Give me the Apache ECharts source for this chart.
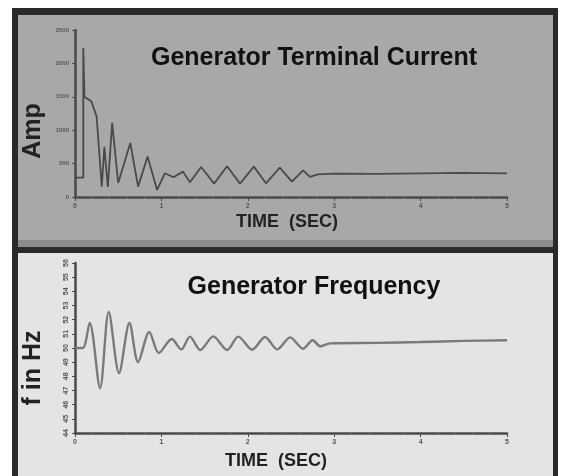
<!DOCTYPE html>
<html>
<head>
<meta charset="utf-8">
<script src="https://cdn.jsdelivr.net/npm/echarts@6/dist/echarts.min.js"></script>
<style>
  html, body { margin: 0; padding: 0; background: #fff; }
  #chart { width: 561px; height: 476px; }
</style>
</head>
<body>
<div id="chart"></div>
<script>
// time ticks (sec)
const timeTicks = [0, 1, 2, 3, 4, 5];

// generator terminal current, [sec, amp]
const currentData = [
  [0, 290], [0.096, 290], [0.096, 2230], [0.11, 1500], [0.19, 1430], [0.25, 1205],
  [0.31, 155], [0.34, 750], [0.38, 150], [0.43, 1110], [0.50, 210], [0.64, 810],
  [0.73, 155], [0.84, 605], [0.95, 105], [1.04, 355], [1.14, 295], [1.25, 380],
  [1.33, 220], [1.46, 450], [1.61, 200], [1.76, 460], [1.91, 200], [2.07, 455],
  [2.21, 205], [2.37, 440], [2.51, 230], [2.64, 400], [2.72, 300], [2.81, 340],
  [3.0, 350], [3.5, 345], [4.0, 355], [4.5, 360], [5.0, 355]
];

// generator frequency, [sec, Hz]
const freqData = [
  [0, 50.0], [0.09, 50.0], [0.17, 51.77], [0.29, 47.16], [0.39, 52.55], [0.51, 48.23],
  [0.63, 51.77], [0.73, 49.0], [0.86, 51.13], [0.97, 49.65], [1.12, 50.64], [1.23, 49.9],
  [1.33, 50.8], [1.45, 49.86], [1.60, 50.82], [1.76, 49.86], [1.89, 50.8], [2.05, 49.88],
  [2.20, 50.78], [2.34, 49.9], [2.49, 50.75], [2.64, 49.95], [2.75, 50.55], [2.84, 50.12],
  [2.95, 50.33], [3.5, 50.36], [4.0, 50.42], [4.5, 50.5], [5.0, 50.55]
];

const chart = echarts.init(document.getElementById('chart'));

const sans = "'Liberation Sans', Arial, sans-serif";
const axisColor = '#4a4a4a';

function timeAxis(gridIndex) {
  return {
    type: 'value', gridIndex: gridIndex,
    min: timeTicks[0], max: timeTicks[timeTicks.length - 1], interval: 1,
    axisLine: { lineStyle: { color: axisColor, width: 2.5 } },
    axisTick: { show: true, length: 4, lineStyle: { color: axisColor } },
    minorTick: { show: true, splitNumber: 5, length: 2, lineStyle: { color: '#777' } },
    axisLabel: { fontSize: 7, color: '#555', margin: 6, fontWeight: 'bold' },
    splitLine: { show: false }
  };
}

chart.setOption({
  animation: false,
  backgroundColor: '#ffffff',
  graphic: [
    // panels and frame
    { type: 'rect', z: -10, shape: { x: 12, y: 8, width: 546, height: 468 }, style: { fill: '#2a2a2a' } },
    { type: 'rect', z: -9, shape: { x: 18, y: 15, width: 535, height: 232 }, style: { fill: '#a8a8a8' } },
    { type: 'rect', z: -9, shape: { x: 18, y: 240, width: 535, height: 7 }, style: { fill: '#8c8c8c' } },
    { type: 'rect', z: -9, shape: { x: 18, y: 253, width: 535, height: 223 }, style: { fill: '#e4e4e4' } },
    // titles
    { type: 'text', z: 10, x: 314, y: 58, style: { text: 'Generator Terminal Current', font: 'bold 25px ' + sans, fill: '#111', align: 'center', verticalAlign: 'middle' } },
    { type: 'text', z: 10, x: 314, y: 287, style: { text: 'Generator Frequency', font: 'bold 25px ' + sans, fill: '#111', align: 'center', verticalAlign: 'middle' } },
    // axis names
    { type: 'text', z: 10, x: 33, y: 131, rotation: Math.PI / 2, style: { text: 'Amp', font: 'bold 25px ' + sans, fill: '#222', align: 'center', verticalAlign: 'middle' } },
    { type: 'text', z: 10, x: 33, y: 368, rotation: Math.PI / 2, style: { text: 'f in Hz', font: 'bold 25px ' + sans, fill: '#222', align: 'center', verticalAlign: 'middle' } },
    { type: 'text', z: 10, x: 287, y: 222, style: { text: 'TIME  (SEC)', font: 'bold 18px ' + sans, fill: '#222', align: 'center', verticalAlign: 'middle' } },
    { type: 'text', z: 10, x: 276, y: 461, style: { text: 'TIME  (SEC)', font: 'bold 18px ' + sans, fill: '#222', align: 'center', verticalAlign: 'middle' } }
  ],
  grid: [
    { left: 75, right: 54, top: 30, bottom: 279 },
    { left: 75, right: 54, top: 263, bottom: 43 }
  ],
  xAxis: [timeAxis(0), timeAxis(1)],
  yAxis: [
    {
      type: 'value', gridIndex: 0, min: 0, max: 2500, interval: 500,
      axisLine: { show: true, lineStyle: { color: axisColor, width: 2.5 } },
      axisTick: { show: true, length: 3, lineStyle: { color: axisColor } },
      axisLabel: { fontSize: 6, color: '#555', margin: 6, fontWeight: 'bold', formatter: (v) => String(v) },
      splitLine: { show: false }
    },
    {
      type: 'value', gridIndex: 1, min: 44, max: 56, interval: 1,
      axisLine: { show: true, lineStyle: { color: axisColor, width: 2.5 } },
      axisTick: { show: true, length: 3, lineStyle: { color: axisColor } },
      axisLabel: { fontSize: 7, color: '#555', margin: 5, rotate: 90, fontWeight: 'bold' },
      splitLine: { show: false }
    }
  ],
  series: [
    {
      type: 'line', xAxisIndex: 0, yAxisIndex: 0, data: currentData,
      showSymbol: false, lineStyle: { color: '#4a4a4a', width: 1.8 }
    },
    {
      type: 'line', xAxisIndex: 1, yAxisIndex: 1, data: freqData, smooth: 0.3,
      showSymbol: false, lineStyle: { color: '#7a7a7a', width: 2.4 }
    }
  ]
});
</script>
</body>
</html>
